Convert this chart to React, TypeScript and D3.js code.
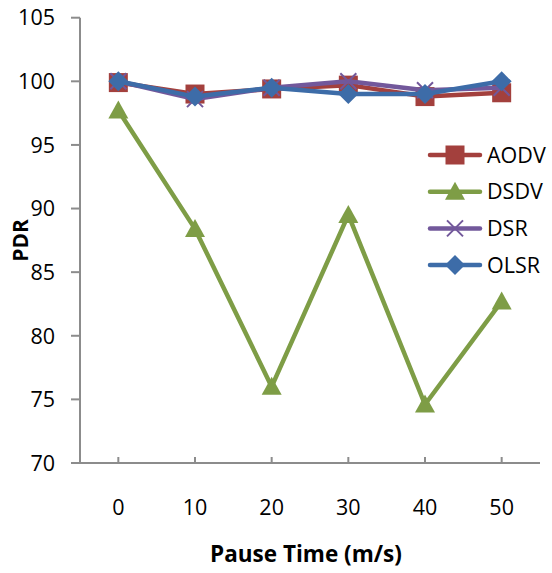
import React from "react";
import * as d3 from "d3";

const categories = ["0", "10", "20", "30", "40", "50"];
const aodv = [99.9, 99.0, 99.4, 99.7, 98.8, 99.1];
const dsdv = [97.7, 88.4, 76.0, 89.5, 74.6, 82.7];
const dsr = [100.0, 98.6, 99.5, 100.0, 99.3, 99.5];
const olsr = [100.0, 98.8, 99.5, 99.0, 99.0, 100.0];
const yTicks = [70, 75, 80, 85, 90, 95, 100, 105];
const seriesNames = ["AODV", "DSDV", "DSR", "OLSR"];

const W = 552;
const H = 573;
const FONT = "'Open Sans', 'Noto Sans', sans-serif";

const colors: Record<string, string> = {
  AODV: "#A3403D",
  DSDV: "#7E9D46",
  DSR: "#72589B",
  OLSR: "#3D6CA8",
};
const markers: Record<string, string> = {
  AODV: "square",
  DSDV: "triangle",
  DSR: "x",
  OLSR: "diamond",
};

function Marker({ type, x, y, color }: { type: string; x: number; y: number; color: string }) {
  if (type === "square") {
    return <rect x={x - 9.5} y={y - 9.5} width={19} height={19} fill={color} />;
  }
  if (type === "triangle") {
    return <path d={`M${x},${y - 10}L${x + 10},${y + 8}L${x - 10},${y + 8}Z`} fill={color} />;
  }
  if (type === "diamond") {
    return <path d={`M${x},${y - 10}L${x + 10},${y}L${x},${y + 10}L${x - 10},${y}Z`} fill={color} />;
  }
  return (
    <path
      d={`M${x - 8},${y - 8}L${x + 8},${y + 8}M${x + 8},${y - 8}L${x - 8},${y + 8}`}
      stroke={color}
      strokeWidth={2}
      fill="none"
    />
  );
}

export default function App() {
  const x = d3.scalePoint<string>().domain(categories).range([80, 540]).padding(0.5);
  const y = d3.scaleLinear().domain([70, 105]).range([463, 17.7]);
  const data: Record<string, number[]> = { AODV: aodv, DSDV: dsdv, DSR: dsr, OLSR: olsr };
  const line = d3
    .line<number>()
    .x((_, i) => x(categories[i]) as number)
    .y((d) => y(d));
  const axisColor = "#8C8C8C";

  return (
    <svg width={W} height={H} style={{ position: "absolute", left: 0, top: 0 }} fontFamily={FONT}>
      <rect width={W} height={H} fill="#fff" />
      {/* y axis */}
      <line x1={80} x2={80} y1={y(105)} y2={y(70)} stroke={axisColor} strokeWidth={2} />
      {yTicks.map((t) => (
        <g key={t}>
          <line x1={71} x2={80} y1={y(t)} y2={y(t)} stroke={axisColor} strokeWidth={2} />
          <text x={55} y={y(t)} dy="0.36em" textAnchor="end" fontSize={21.5} fill="#000">
            {t}
          </text>
        </g>
      ))}
      {/* x axis */}
      <line x1={71} x2={540} y1={y(70)} y2={y(70)} stroke={axisColor} strokeWidth={2} />
      {categories.map((c) => (
        <g key={c}>
          <line x1={x(c)} x2={x(c)} y1={y(70)} y2={y(70) - 6} stroke={axisColor} strokeWidth={2} />
          <text x={x(c)} y={515} textAnchor="middle" fontSize={21.5} fill="#000">
            {c}
          </text>
        </g>
      ))}
      <text x={306} y={562} textAnchor="middle" fontSize={22.5} fontWeight="bold" fill="#000">
        Pause Time (m/s)
      </text>
      <text
        transform={`translate(28,${(y(70) + y(105)) / 2}) rotate(-90)`}
        textAnchor="middle"
        fontSize={21}
        fontWeight="bold"
        fill="#000"
      >
        PDR
      </text>
      {/* series */}
      {seriesNames.map((s) => (
        <g key={s}>
          <path
            d={line(data[s]) || ""}
            fill="none"
            stroke={colors[s]}
            strokeWidth={4.5}
            strokeLinejoin="round"
            strokeLinecap="round"
          />
          {data[s].map((v, i) => (
            <Marker key={i} type={markers[s]} x={x(categories[i]) as number} y={y(v)} color={colors[s]} />
          ))}
        </g>
      ))}
      {/* legend */}
      {seriesNames.map((s, i) => {
        const ly = 155 + i * 36.7;
        return (
          <g key={s}>
            <line x1={430} x2={480} y1={ly} y2={ly} stroke={colors[s]} strokeWidth={4.5} strokeLinecap="round" />
            <Marker type={markers[s]} x={455} y={ly} color={colors[s]} />
            <text x={487} y={ly} dy="0.36em" fontSize={21.5} fill="#000">
              {s}
            </text>
          </g>
        );
      })}
    </svg>
  );
}
